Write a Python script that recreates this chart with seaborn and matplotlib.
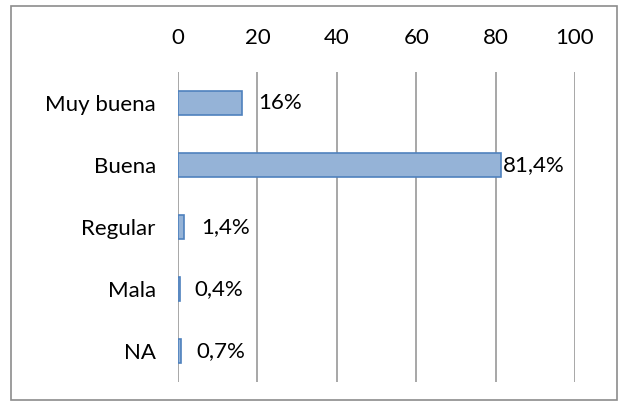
import matplotlib
matplotlib.use("Agg")
import matplotlib.pyplot as plt
import seaborn as sns
import pandas as pd
from matplotlib.patches import Rectangle

categories = ["Muy buena", "Buena", "Regular", "Mala", "NA"]
values = [16, 81.4, 1.4, 0.4, 0.7]
labels = ["16%", "81,4%", "1,4%", "0,4%", "0,7%"]
label_pads = [12, 1, 13, 11, 11]
xticks = [0, 20, 40, 60, 80, 100]

sns.set_theme(style="white")
plt.rcParams["font.family"] = ["Lato", "DejaVu Sans"]

df = pd.DataFrame({"cat": categories, "val": values})

fig = plt.figure(figsize=(6.27, 4.08), dpi=100)
ax = fig.add_axes([178/627, 1-382/408, (575-178)/627, (382-72)/408])

sns.barplot(data=df, y="cat", x="val", orient="h", ax=ax, color="#95B3D7",
            saturation=1, width=0.4, edgecolor="#4F81BD", linewidth=1.2, zorder=3)

fs = 16
ax.set_xlim(0, 100)
ax.set_ylim(4.5, -0.5)
ax.set_xticks(xticks)
ax.set_xticklabels([str(t) for t in xticks])
ax.xaxis.tick_top()
ax.xaxis.set_label_position("top")
ax.tick_params(axis="x", length=0, pad=17, labelsize=fs, colors="black")
ax.tick_params(axis="y", length=0, pad=16, labelsize=fs, colors="black")
ax.set_xlabel("")
ax.set_ylabel("")
for s in ax.spines.values():
    s.set_visible(False)
ax.grid(axis="x", color="#A0A0A0", linewidth=1.3, zorder=0)
ax.grid(axis="y", visible=False)

for i, (v, lab, p) in enumerate(zip(values, labels, label_pads)):
    ax.annotate(lab, xy=(v, i), xytext=(p, 0), textcoords="offset points",
                va="center", ha="left", fontsize=fs, color="black")

fig.patches.append(Rectangle((11/627, 1-400/408), (617-11)/627, (400-6)/408,
                             transform=fig.transFigure, fill=False,
                             edgecolor="#8C8C8C", linewidth=1.2))

fig.savefig("out.png", dpi=100, facecolor="white")
